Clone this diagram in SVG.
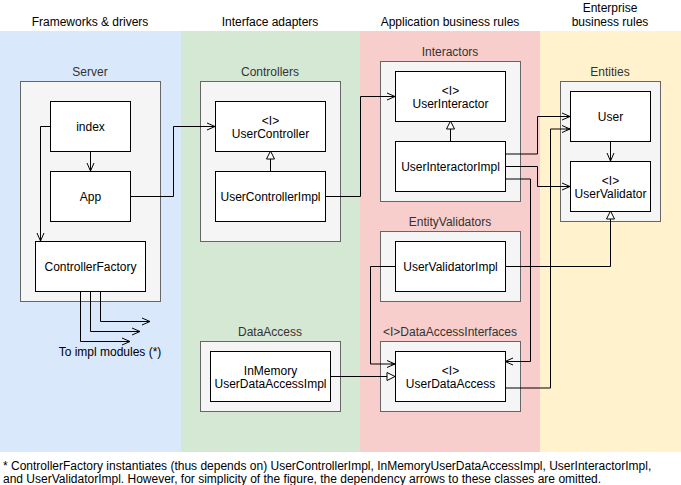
<svg xmlns="http://www.w3.org/2000/svg" width="681" height="485" viewBox="0 0 681 485">
<style>
text{font-family:"Liberation Sans",Arial,sans-serif;font-size:12px;text-anchor:middle;fill:#000}
.gl{fill:#333}
.grp{fill:#f5f5f5;stroke:#666;stroke-width:1}
.node{fill:#fff;stroke:#000;stroke-width:1}
.e{fill:none;stroke:#000;stroke-width:1}
.o{marker-end:url(#open)}
.t{marker-end:url(#tri)}
.foot{text-anchor:start}
</style>
<defs>
<marker id="open" markerUnits="userSpaceOnUse" markerWidth="12" markerHeight="10" refX="10" refY="5" orient="auto" overflow="visible">
<path d="M2,1.5 L10,5 L2,8.5 M6,5 L10,5" fill="none" stroke="#000" stroke-width="1"/>
</marker>
<marker id="tri" markerUnits="userSpaceOnUse" markerWidth="12" markerHeight="12" refX="10" refY="5" orient="auto" overflow="visible">
<path d="M2,1 L10,5 L2,9 Z" fill="#fff" stroke="#000" stroke-width="1"/>
</marker>
</defs>

<g id="bands">
<rect x="0" y="31" width="181" height="421" fill="#dae8fc"/>
<rect x="181" y="31" width="179" height="421" fill="#d5e8d4"/>
<rect x="360" y="31" width="180" height="421" fill="#f8cecc"/>
<rect x="540" y="31" width="141" height="421" fill="#fff2cc"/>
<text x="90" y="26">Frameworks &amp; drivers</text>
<text x="270" y="26">Interface adapters</text>
<text x="450" y="26">Application business rules</text>
<text x="610" y="12">Enterprise</text>
<text x="610" y="26">business rules</text>
</g>

<g id="group-server">
<rect class="grp" x="20.5" y="81.5" width="140" height="220"/>
<text class="gl" x="90" y="76">Server</text>
</g>
<g id="group-controllers">
<rect class="grp" x="200.5" y="81.5" width="140" height="160"/>
<text class="gl" x="270" y="76">Controllers</text>
</g>
<g id="group-dataaccess">
<rect class="grp" x="200.5" y="341.5" width="140" height="70"/>
<text class="gl" x="270" y="336">DataAccess</text>
</g>
<g id="group-interactors">
<rect class="grp" x="380.5" y="61.5" width="140" height="140"/>
<text class="gl" x="450" y="56">Interactors</text>
</g>
<g id="group-entityvalidators">
<rect class="grp" x="380.5" y="231.5" width="140" height="70"/>
<text class="gl" x="450" y="226">EntityValidators</text>
</g>
<g id="group-dataaccessinterfaces">
<rect class="grp" x="380.5" y="341.5" width="140" height="70"/>
<text class="gl" x="450" y="336">&lt;I&gt;DataAccessInterfaces</text>
</g>
<g id="group-entities">
<rect class="grp" x="560.5" y="81.5" width="100" height="140"/>
<text class="gl" x="610" y="76">Entities</text>
</g>

<g id="connectors">
<path class="e o" d="M90.5,151 L90.5,171"/>
<path class="e o" d="M50,126.5 L40.5,126.5 L40.5,241"/>
<path class="e o" d="M80.5,291 L80.5,341.5 L130,341.5"/>
<path class="e o" d="M90.5,291 L90.5,331.5 L140,331.5"/>
<path class="e o" d="M100.5,291 L100.5,321.5 L150,321.5"/>
<path class="e o" d="M130,196.5 L173.5,196.5 L173.5,126.5 L215,126.5"/>
<path class="e t" d="M270.5,171 L270.5,151"/>
<path class="e o" d="M325,196.5 L360.5,196.5 L360.5,96.5 L395,96.5"/>
<path class="e t" d="M450.5,141 L450.5,121"/>
<path class="e o" d="M505,154 L537.5,154 L537.5,116.5 L570,116.5"/>
<path class="e o" d="M505,166.5 L537.5,166.5 L537.5,186.5 L570,186.5"/>
<path class="e o" d="M505,179 L530.5,179 L530.5,361.5 L505,361.5"/>
<path class="e o" d="M505,388 L550.5,388 L550.5,129 L570,129"/>
<path class="e t" d="M505,266.5 L610.5,266.5 L610.5,211"/>
<path class="e o" d="M395,266.5 L370.5,266.5 L370.5,364 L395,364"/>
<path class="e t" d="M330,376.5 L395,376.5"/>
<path class="e o" d="M610.5,141 L610.5,161"/>
</g>

<g id="index">
<rect class="node" x="50.5" y="101.5" width="80" height="50"/>
<text x="90.5" y="130.5">index</text>
</g>
<g id="App">
<rect class="node" x="50.5" y="171.5" width="80" height="50"/>
<text x="90.5" y="200.5">App</text>
</g>
<g id="ControllerFactory">
<rect class="node" x="35.5" y="241.5" width="110" height="50"/>
<text x="90.5" y="270.5">ControllerFactory</text>
</g>
<g id="impl-label">
<text x="110" y="356">To impl modules (*)</text>
</g>
<g id="UserController">
<rect class="node" x="215.5" y="101.5" width="110" height="50"/>
<text x="270.5" y="124.5">&lt;I&gt;</text>
<text x="270.5" y="138">UserController</text>
</g>
<g id="UserControllerImpl">
<rect class="node" x="215.5" y="171.5" width="110" height="50"/>
<text x="270.5" y="200.5">UserControllerImpl</text>
</g>
<g id="InMemoryUserDataAccessImpl">
<rect class="node" x="210.5" y="351.5" width="120" height="50"/>
<text x="270.5" y="374.5">InMemory</text>
<text x="270.5" y="388">UserDataAccessImpl</text>
</g>
<g id="UserInteractor">
<rect class="node" x="395.5" y="71.5" width="110" height="50"/>
<text x="450.5" y="94.5">&lt;I&gt;</text>
<text x="450.5" y="108">UserInteractor</text>
</g>
<g id="UserInteractorImpl">
<rect class="node" x="395.5" y="141.5" width="110" height="50"/>
<text x="450.5" y="170.5">UserInteractorImpl</text>
</g>
<g id="UserValidatorImpl">
<rect class="node" x="395.5" y="241.5" width="110" height="50"/>
<text x="450.5" y="270.5">UserValidatorImpl</text>
</g>
<g id="UserDataAccess">
<rect class="node" x="395.5" y="351.5" width="110" height="50"/>
<text x="450.5" y="374.5">&lt;I&gt;</text>
<text x="450.5" y="388">UserDataAccess</text>
</g>
<g id="User">
<rect class="node" x="570.5" y="91.5" width="80" height="50"/>
<text x="610.5" y="120.5">User</text>
</g>
<g id="UserValidator">
<rect class="node" x="570.5" y="161.5" width="80" height="50"/>
<text x="610.5" y="184.5">&lt;I&gt;</text>
<text x="610.5" y="198">UserValidator</text>
</g>

<g id="footnote">
<text class="foot" x="3" y="470">* ControllerFactory instantiates (thus depends on) UserControllerImpl, InMemoryUserDataAccessImpl, UserInteractorImpl,</text>
<text class="foot" x="3" y="483">and UserValidatorImpl. However, for simplicity of the figure, the dependency arrows to these classes are omitted.</text>
</g>
</svg>
